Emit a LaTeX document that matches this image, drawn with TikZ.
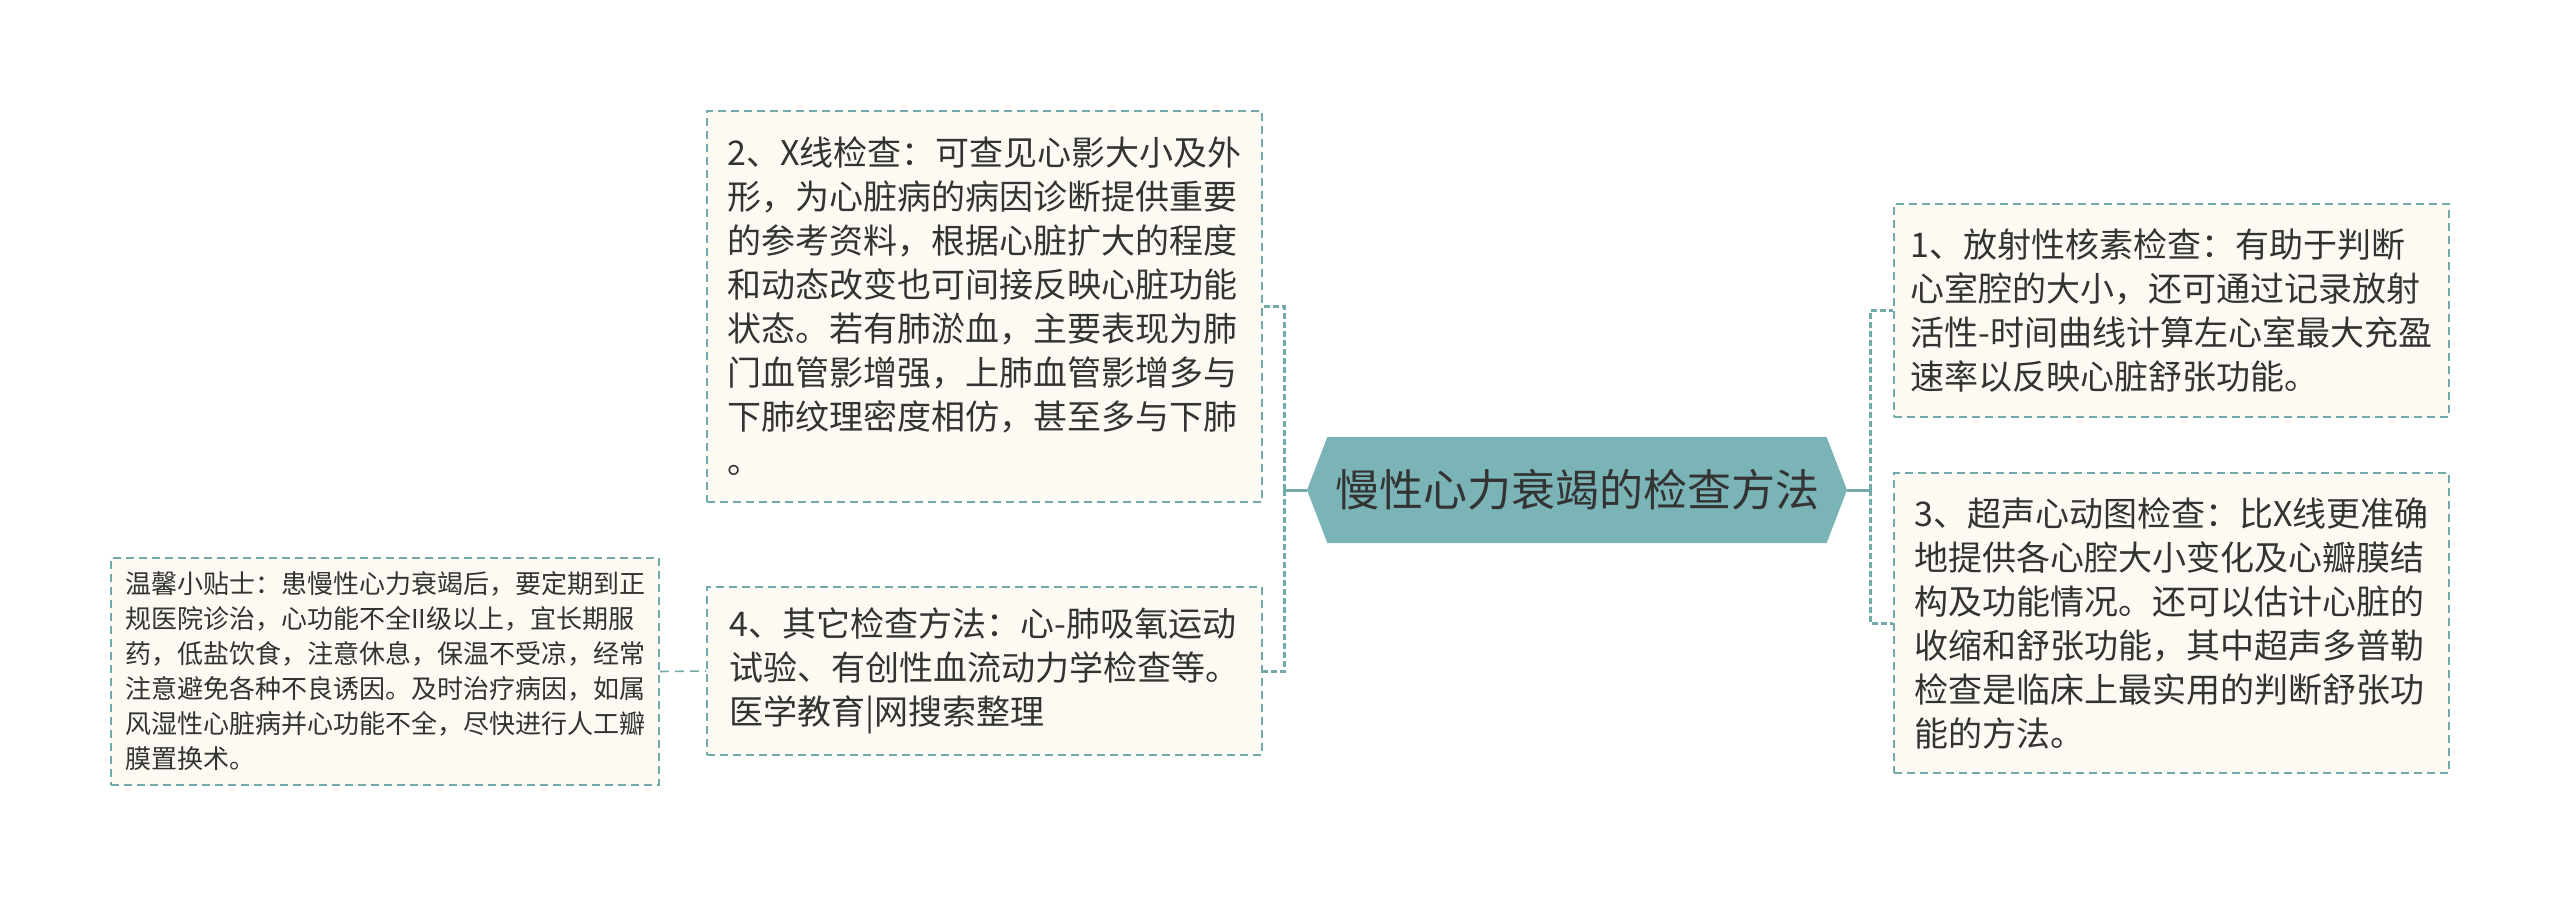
\documentclass[tikz,border=0pt]{standalone}
\usepackage{fontspec}
\setmainfont{Noto Sans CJK SC}
\usetikzlibrary{shapes.symbols}
\definecolor{rootbg}{HTML}{7BB4B6}
\definecolor{cardbg}{HTML}{FCFAF2}
\definecolor{edgeteal}{HTML}{72AAAC}
\definecolor{inkgray}{HTML}{333333}

\begin{document}
\begin{tikzpicture}[x=1pt, y=-1pt,
every node/.style = {align=left, text=inkgray, inner sep=0pt},
card/.style = {draw=edgeteal, fill=cardbg, line width=1.6pt,
  dash pattern=on 8pt off 5pt, minimum width=555pt,
  font=\fontsize{34}{44}\selectfont},
tipcard/.style = {card, minimum width=548pt, font=\fontsize{26}{35}\selectfont},
rootbox/.style = {shape=signal, signal to=west and east, signal pointer angle=138,
  fill=rootbg, minimum width=540pt, minimum height=106pt,
  font=\fontsize{44}{52}\selectfont},
stem/.style = {draw=edgeteal, line width=3pt},
branch/.style = {stem, dash pattern=on 6pt off 3pt},
link/.style = {draw=edgeteal, line width=1.6pt, dash pattern=on 9pt off 6pt}
]
\fill [white] (0,0) rectangle (2560,897);
\useasboundingbox (0,0) rectangle (2560,897);

\node [rootbox] (root) at (1577,490) {慢性心力衰竭的检查方法};

\node [card, minimum height=391pt] (xray) at (984.5,306.5) {2、X线检查：可查见心影大小及外\\形，为心脏病的病因诊断提供重要\\的参考资料，根据心脏扩大的程度\\和动态改变也可间接反映心脏功能\\状态。若有肺淤血，主要表现为肺\\门血管影增强，上肺血管影增多与\\下肺纹理密度相仿，甚至多与下肺\\。};
\node [card, minimum height=168pt] (other) at (984.5,671) {4、其它检查方法：心-肺吸氧运动\\试验、有创性血流动力学检查等。\\医学教育|网搜索整理};
\node [tipcard, minimum height=227pt] (tip) at (385,671.5) {温馨小贴士：患慢性心力衰竭后，要定期到正\\规医院诊治，心功能不全II级以上，宜长期服\\药，低盐饮食，注意休息，保温不受凉，经常\\注意避免各种不良诱因。及时治疗病因，如属\\风湿性心脏病并心功能不全，尽快进行人工瓣\\膜置换术。};
\node [card, minimum height=213pt] (nuclide) at (2171.5,310.5) {1、放射性核素检查：有助于判断\\心室腔的大小，还可通过记录放射\\活性-时间曲线计算左心室最大充盈\\速率以反映心脏舒张功能。};
\node [card, minimum height=300pt] (echo) at (2171.5,623) {3、超声心动图检查：比X线更准确\\地提供各心腔大小变化及心瓣膜结\\构及功能情况。还可以估计心脏的\\收缩和舒张功能，其中超声多普勒\\检查是临床上最实用的判断舒张功\\能的方法。};

\draw [stem] (root.west) -- ++(-22,0) coordinate (lhub);
\draw [branch] (lhub) |- (xray.east);
\draw [branch] (lhub) |- (other.east);
\draw [stem] (root.east) -- ++(23,0) coordinate (rhub);
\draw [branch] (rhub) |- (nuclide.west);
\draw [branch] (rhub) |- (echo.west);
\draw [link] (tip.east) -- (other.west);

\end{tikzpicture}
\end{document}
